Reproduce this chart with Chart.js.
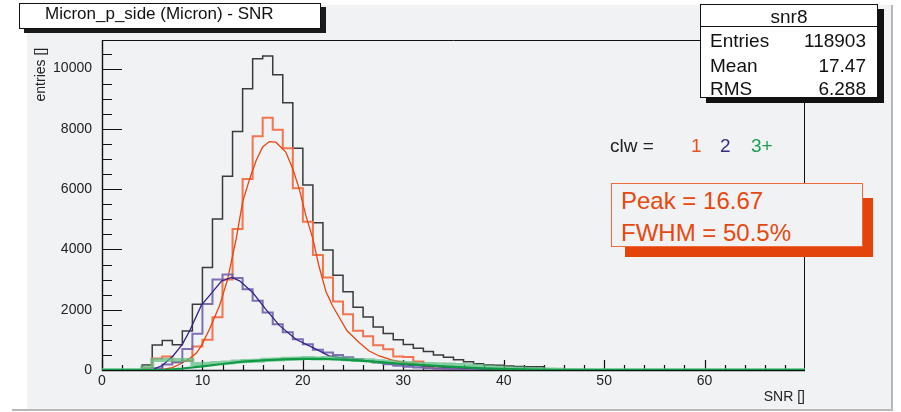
<!DOCTYPE html>
<html>
<head>
<meta charset="utf-8">
<script src="https://cdn.jsdelivr.net/npm/chart.js@4.4.1/dist/chart.umd.min.js"></script>
<style>
html,body{margin:0;padding:0;background:#fff;width:901px;height:412px;overflow:hidden;}
#wrap{position:relative;width:901px;height:412px;font-family:"Liberation Sans",Arial,sans-serif;color:#111;}
#c{position:absolute;left:0;top:0;}
.abs{position:absolute;line-height:1;white-space:nowrap;}
#titlebox{position:absolute;left:19px;top:3px;width:300px;height:24px;background:#fff;border:1px solid #111;box-shadow:5px 4px 0 0 #1a1a1a;}
#statbox{position:absolute;left:700px;top:4px;width:176px;height:92px;background:#fff;border:1px solid #111;box-shadow:6px 5px 0 0 #111;}
#statsep{position:absolute;left:700px;top:26px;width:178px;height:1px;background:#111;}
#peakshadow{position:absolute;left:625px;top:198px;width:248px;height:59px;background:#e2440c;}
#peakbox{position:absolute;left:611px;top:183px;width:250px;height:62px;background:#f1f2f4;border:1px solid #ef6a3c;}
</style>
</head>
<body>
<div id="wrap">
<canvas id="c" width="901" height="412"></canvas>
<div id="titlebox"></div>
<div class="abs" style="left:45px;top:5px;font-size:17px;">Micron_p_side (Micron) - SNR</div>
<div id="statbox"></div>
<div id="statsep"></div>
<div class="abs" style="left:700px;width:178px;text-align:center;top:7px;font-size:19px;">snr8</div>
<div class="abs" style="left:710px;top:30.5px;font-size:19px;">Entries</div>
<div class="abs" style="left:710px;top:55.5px;font-size:19px;">Mean</div>
<div class="abs" style="left:710px;top:78.5px;font-size:19px;">RMS</div>
<div class="abs" style="right:35px;top:30.5px;font-size:19px;">118903</div>
<div class="abs" style="right:35px;top:55.5px;font-size:19px;">17.47</div>
<div class="abs" style="right:35px;top:78.5px;font-size:19px;">6.288</div>
<div class="abs" style="left:610px;top:136px;font-size:19px;color:#222;">clw =</div>
<div class="abs" style="left:691px;top:136px;font-size:19px;color:#e8501e;">1</div>
<div class="abs" style="left:720px;top:136px;font-size:19px;color:#3a2a88;">2</div>
<div class="abs" style="left:751px;top:136px;font-size:19px;color:#18a050;">3+</div>
<div id="peakshadow"></div>
<div id="peakbox"></div>
<div class="abs" style="left:621px;top:189px;font-size:24px;color:#e8470e;">Peak = 16.67</div>
<div class="abs" style="left:621px;top:221px;font-size:24px;color:#e8470e;">FWHM = 50.5%</div>
</div>
<script>
// ---- data ----
const xMin = 0, xMax = 70, binWidth = 1;           // SNR bins [k, k+1)
const yMax = 10950;
const xTickLabels = [0, 10, 20, 30, 40, 50, 60];
const yTickLabels = [0, 2000, 4000, 6000, 8000, 10000];
const totalCounts = [0,0,0,0,170,830,980,840,1290,2185,
  3405,5010,6430,7915,9335,10330,10420,9800,8870,7360,
  6140,4890,3985,3140,2600,2085,1760,1425,1215,1000,
  850,720,610,500,420,340,270,210,165,155,
  135,112,110,105,0,0,0,0,0,0,
  0,0,0,0,0,0,0,0,0,0,
  0,0,0,0,0,0,0,0,0,0];
const clw1Counts = [0,0,0,0,60,380,445,260,300,780,
  1000,1750,3000,4680,6340,7760,8370,7970,7360,6030,
  4920,3815,3070,2270,1850,1300,1120,820,690,450,
  430,280,90,50,35,25,15,10,0,0,
  0,0,0,0,0,0,0,0,0,0,
  0,0,0,0,0,0,0,0,0,0,
  0,0,0,0,0,0,0,0,0,0];
const clw2Counts = [0,0,0,0,20,60,180,260,700,1200,
  2190,3000,3170,3050,2680,2300,1910,1520,1250,1020,
  855,670,580,500,420,355,300,245,190,140,
  105,80,60,45,35,25,15,10,5,0,
  0,0,0,0,0,0,0,0,0,0,
  0,0,0,0,0,0,0,0,0,0,
  0,0,0,0,0,0,0,0,0,0];
const clw3Counts = [0,0,0,0,80,330,340,330,330,200,
  210,230,250,280,300,310,340,350,370,380,
  400,380,400,390,360,330,320,290,270,250,
  230,210,200,190,180,170,160,130,100,80,
  60,50,35,25,15,10,0,0,0,0,
  0,0,0,0,0,0,0,0,0,0,
  0,0,0,0,0,0,0,0,0,0];
// fitted curves
const fit1X = [0,5.75,7.0,7.74,8.73,9.4,9.89,10.7,11.7,12.5,13.36,14.0,14.7,15.35,16.0,16.67,17.3,17.8,18.3,19.0,19.64,20.3,21.0,21.6,22.3,22.95,24.4,25.6,26.6,27.6,28.9,30.2,31.5,33,35,36.5];
const fit1Y = [0,0,80,190,380,560,800,1350,2130,3000,4350,5570,6340,6950,7400,7580,7560,7400,7230,6670,6010,5120,4350,3450,2600,2130,1300,910,630,465,330,245,190,140,90,60];
const fit2X = [0,4.9,6.0,7.07,8.0,8.73,9.9,10.7,11.9,12.9,13.7,15.0,16.3,17.66,19.3,21.3,22.6,24.3,27.6,30.9,34.2,37.5,40,45];
const fit2Y = [0,0,150,465,850,1300,2150,2470,2950,3070,2960,2570,2020,1480,1020,690,470,380,245,155,100,45,20,5];
const fit3X = [0,6,8,10,12,14,16,18,20,22,24,26,28,30,32,34,36,38,40,42,45,50,70];
const fit3Y = [0,0,50,120,200,280,320,350,370,370,340,300,250,200,160,120,85,55,35,20,8,0,0];
const yTickStep = 2000, yMinorStep = 500, xTickStep = 10, xMinorStep = 2;

function hist(counts){
  const pts = counts.map((v,i)=>({x: xMin + i*binWidth, y: v}));
  pts.push({x: xMin + counts.length*binWidth, y: counts[counts.length-1]});
  return pts;
}
function curve(xs, ys){ return xs.map((x,i)=>({x, y: ys[i]})); }

const padPlugin = {
  id:'pad',
  beforeDraw(chart){
    const c = chart.ctx; c.save();
    c.fillStyle = '#ffffff'; c.fillRect(0,0,901,412);
    c.fillStyle = '#f1f2f4'; c.fillRect(27,5,865,404);
    c.strokeStyle = '#b8b8b8'; c.lineWidth = 2;
    c.beginPath(); c.moveTo(12,410); c.lineTo(893,410); c.moveTo(892,5); c.lineTo(892,410); c.stroke();
    c.restore();
  },
  beforeDatasetsDraw(chart){
    const {ctx, chartArea:a, scales:{x, y}} = chart;
    ctx.save();
    ctx.strokeStyle = '#111'; ctx.lineWidth = 1;
    ctx.beginPath();
    ctx.moveTo(a.left+0.5, a.top+0.5); ctx.lineTo(a.right-0.5, a.top+0.5); ctx.lineTo(a.right-0.5, a.bottom);
    ctx.stroke();
    ctx.lineWidth = 1.4;
    ctx.beginPath(); ctx.moveTo(a.left+0.5, a.top); ctx.lineTo(a.left+0.5, a.bottom+0.5); ctx.lineTo(a.right, a.bottom+0.5); ctx.stroke();
    ctx.lineWidth = 1.2;
    ctx.beginPath();
    for (let v = 0; v <= y.max; v += yMinorStep){
      const py = Math.round(y.getPixelForValue(v)) + 0.5;
      const len = (v % yTickStep === 0) ? 20 : 10;
      ctx.moveTo(a.left, py); ctx.lineTo(a.left + len, py);
    }
    for (let v = xMin; v < x.max; v += xMinorStep){
      const px = Math.round(x.getPixelForValue(v)) + 0.5;
      const len = (v % xTickStep === 0) ? 10 : 5;
      ctx.moveTo(px, a.bottom); ctx.lineTo(px, a.bottom - len);
    }
    ctx.stroke();
    ctx.restore();
  }
};

const tickFont = {family:'"Liberation Sans", Arial, sans-serif', size:14};
new Chart(document.getElementById('c'), {
  type:'line',
  data:{ datasets:[
    {label:'clw 3+ fit', data:curve(fit3X, fit3Y), borderColor:'#0f9a45', borderWidth:2.2, order:1},
    {label:'clw 3+', data:hist(clw3Counts), stepped:'before', borderColor:'rgba(90,190,128,0.7)', borderWidth:4, order:2},
    {label:'clw 2 fit', data:curve(fit2X, fit2Y), borderColor:'#35228a', borderWidth:1.3, order:3},
    {label:'clw 2', data:hist(clw2Counts), stepped:'before', borderColor:'rgba(112,96,172,0.9)', borderWidth:2, order:4},
    {label:'clw 1 fit', data:curve(fit1X, fit1Y), borderColor:'#e8450c', borderWidth:1.3, order:5},
    {label:'clw 1', data:hist(clw1Counts), stepped:'before', borderColor:'rgba(242,110,70,0.95)', borderWidth:2, order:6},
    {label:'all', data:hist(totalCounts), stepped:'before', borderColor:'#3a3a3a', borderWidth:1.5, order:7}
  ]},
  options:{
    responsive:false, animation:false, maintainAspectRatio:false,
    layout:{padding:{left:0, top:40, right:96, bottom:0}},
    elements:{point:{radius:0}, line:{fill:false, tension:0}},
    plugins:{legend:{display:false}, tooltip:{enabled:false}},
    scales:{
      x:{type:'linear', min:xMin, max:xMax,
        afterBuildTicks(s){ s.ticks = xTickLabels.map(v=>({value:v})); },
        ticks:{autoSkip:false, maxRotation:0, padding:3, color:'#222', font:tickFont},
        grid:{display:false, drawTicks:false}, border:{display:false},
        title:{display:true, text:'SNR []', align:'end', color:'#222', font:{family:tickFont.family, size:14}, padding:{top:0, bottom:6}},
        afterFit(s){ s.height = 42; }
      },
      y:{type:'linear', min:0, max:yMax,
        afterBuildTicks(s){ s.ticks = yTickLabels.map(v=>({value:v})); },
        ticks:{padding:10, color:'#222', font:tickFont, callback:(v)=>String(v)},
        grid:{display:false, drawTicks:false}, border:{display:false},
        title:{display:true, text:'entries []  ', align:'end', color:'#222', font:{family:tickFont.family, size:14}, padding:{top:33, bottom:0}},
        afterFit(s){ s.width = 102; }
      }
    }
  },
  plugins:[padPlugin]
});
</script>
</body>
</html>
